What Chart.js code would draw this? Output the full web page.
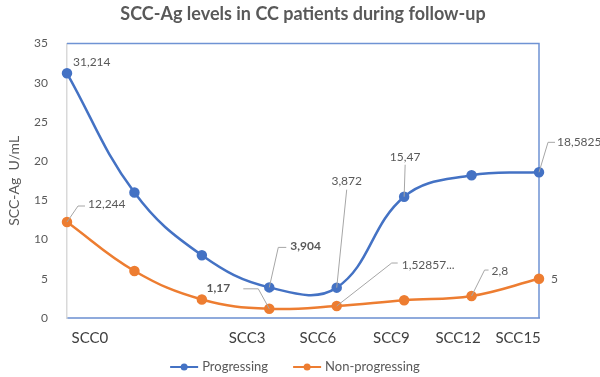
<!DOCTYPE html>
<html>
<head>
<meta charset="utf-8">
<script src="https://cdn.jsdelivr.net/npm/chart.js@4.4.1/dist/chart.umd.min.js"></script>
<style>
  html, body { margin: 0; padding: 0; background: #fff; }
  #wrap { width: 600px; height: 377px; }
</style>
</head>
<body>
<div id="wrap"><canvas id="scc"></canvas></div>
<script>
// --- data ---
const steps = [0, 1, 2, 3, 4, 5, 6, 7]
const progressing = [31.214, 16, 8, 3.904, 3.872, 15.47, 18.2, 18.5825]
const nonProgressing = [12.244, 6, 2.36, 1.17, 1.52857, 2.27, 2.8, 5]
const progressingLabels = ['31,214', null, null, '3,904', '3,872', '15,47', null, '18,5825']
const nonProgressingLabels = ['12,244', null, null, '1,17', '1,52857...', null, '2,8', '5']
const xTickLabels = ['SCC0', 'SCC3', 'SCC6', 'SCC9', 'SCC12', 'SCC15']
const yTicks = [0, 5, 10, 15, 20, 25, 30, 35]

const BLUE = '#4472C4'
const ORANGE = '#ED7D31'
const TEXT = '#595959'
const FONT = 'Lato, "Open Sans", sans-serif'

// where each x tick label sits, in step units (labels in the source are not under the points)
const xTickAt = [0.34, 2.67, 3.72, 4.81, 5.8, 6.69]

// label placement relative to its point: text offset, alignment, optional leader line
const labelStyle = {
  0: {
    0: { dx: 6, dy: -11, align: 'left' },
    3: { dx: 21, dy: -41, align: 'left', bold: true, leader: [[9, -40], [17, -40]] },
    4: { dx: 10, dy: -107, align: 'center', leader: [[10, -98]] },
    5: { dx: 1, dy: -40, align: 'center', leader: [[1, -32]] },
    7: { dx: 18, dy: -30, align: 'left', leader: [[9, -30], [16, -30]] }
  },
  1: {
    0: { dx: 21, dy: -18, align: 'left', leader: [[11, -16], [18, -16]] },
    3: { dx: -39, dy: -21, align: 'right', bold: true, leader: [[-11, -20], [-26, -20]] },
    4: { dx: 65, dy: -41, align: 'left', leader: [[55, -43], [61, -43]] },
    6: { dx: 20, dy: -25, align: 'left', leader: [[13, -26], [17, -26]] },
    7: { dx: 12, dy: 0, align: 'left' }
  }
}

const dataLabels = {
  id: 'dataLabels',
  afterDatasetsDraw(chart) {
    const ctx = chart.ctx
    chart.data.datasets.forEach((ds, di) => {
      const meta = chart.getDatasetMeta(di)
      ds.pointLabels.forEach((txt, i) => {
        if (!txt) return
        const st = labelStyle[di][i]
        const pt = meta.data[i]
        ctx.save()
        if (st.leader) {
          ctx.strokeStyle = '#A6A6A6'
          ctx.lineWidth = 1
          ctx.beginPath()
          ctx.moveTo(pt.x, pt.y)
          st.leader.forEach(([lx, ly]) => ctx.lineTo(pt.x + lx, pt.y + ly))
          ctx.stroke()
        }
        ctx.fillStyle = TEXT
        ctx.font = (st.bold ? 'bold ' : '') + '12px ' + FONT
        ctx.textAlign = st.align
        ctx.textBaseline = 'middle'
        ctx.fillText(txt, pt.x + st.dx, pt.y + st.dy)
        ctx.restore()
      })
    })
  }
}

// blue frame on top and right side of the plot area
const plotFrame = {
  id: 'plotFrame',
  beforeDatasetsDraw(chart) {
    const { ctx, chartArea: a } = chart
    ctx.save()
    ctx.strokeStyle = '#6F93D4'
    ctx.lineWidth = 1.5
    ctx.beginPath()
    ctx.moveTo(a.left, a.top)
    ctx.lineTo(a.right, a.top)
    ctx.lineTo(a.right, a.bottom)
    ctx.stroke()
    ctx.restore()
  }
}

// Excel style legend: line with a dot, then the series name
const lineLegend = {
  id: 'lineLegend',
  afterDraw(chart) {
    const ctx = chart.ctx
    const lineW = 28
    const gapText = 4
    const gapItem = 25
    ctx.save()
    ctx.font = '13px ' + FONT
    const items = chart.data.datasets.map((ds) => ({
      ds,
      w: lineW + gapText + ctx.measureText(ds.label).width
    }))
    const total = items.reduce((s, it) => s + it.w, 0) + gapItem * (items.length - 1)
    let x = 295 - total / 2
    const y = 367
    items.forEach((it) => {
      ctx.strokeStyle = it.ds.borderColor
      ctx.lineWidth = 2
      ctx.beginPath()
      ctx.moveTo(x, y)
      ctx.lineTo(x + lineW, y)
      ctx.stroke()
      ctx.fillStyle = it.ds.borderColor
      ctx.beginPath()
      ctx.arc(x + lineW / 2, y, 3.5, 0, Math.PI * 2)
      ctx.fill()
      ctx.fillStyle = TEXT
      ctx.textAlign = 'left'
      ctx.textBaseline = 'middle'
      ctx.fillText(it.ds.label, x + lineW + gapText, y)
      x += it.w + gapItem
    })
    ctx.restore()
  }
}

function series(values) {
  return values.map((v, i) => ({ x: steps[i], y: v }))
}

new Chart(document.getElementById('scc'), {
  type: 'line',
  data: {
    datasets: [
      {
        label: 'Progressing',
        data: series(progressing),
        pointLabels: progressingLabels,
        borderColor: BLUE,
        backgroundColor: BLUE,
        borderWidth: 2.5,
        pointRadius: 4,
        pointBackgroundColor: BLUE,
        tension: 0.4,
        clip: false
      },
      {
        label: 'Non-progressing',
        data: series(nonProgressing),
        pointLabels: nonProgressingLabels,
        borderColor: ORANGE,
        backgroundColor: ORANGE,
        borderWidth: 2.5,
        pointRadius: 4,
        pointBackgroundColor: ORANGE,
        tension: 0.4,
        clip: false
      }
    ]
  },
  options: {
    responsive: true,
    maintainAspectRatio: false,
    animation: false,
    layout: {
      padding: { left: 6, right: 0, top: 0, bottom: 25 }
    },
    plugins: {
      title: {
        display: true,
        text: 'SCC-Ag levels in CC patients during follow-up',
        color: TEXT,
        font: { family: FONT, size: 18, weight: 'bold' },
        padding: { top: 3, bottom: 19 }
      },
      legend: { display: false },
      tooltip: { enabled: false }
    },
    scales: {
      x: {
        type: 'linear',
        min: 0,
        max: 7,
        grid: { display: false },
        border: { color: '#8FAADC', width: 2 },
        afterBuildTicks: (scale) => {
          scale.ticks = xTickAt.map((v) => ({ value: v }))
        },
        afterFit: (scale) => {
          scale.height = 34
        },
        ticks: {
          color: '#404040',
          font: { family: FONT, size: 15 },
          padding: 3,
          maxRotation: 0,
          autoSkip: false,
          callback: (value, index) => xTickLabels[index]
        }
      },
      y: {
        min: 0,
        max: 35,
        grid: { display: false },
        border: { color: '#D9D9D9', width: 1.5 },
        afterBuildTicks: (scale) => {
          scale.ticks = yTicks.map((v) => ({ value: v }))
        },
        afterFit: (scale) => {
          scale.width = 61
        },
        title: {
          display: true,
          text: 'SCC-Ag  U/mL',
          color: TEXT,
          font: { family: FONT, size: 14 },
          padding: { top: 0, bottom: 4 }
        },
        ticks: {
          color: TEXT,
          font: { family: FONT, size: 12 },
          padding: 11
        }
      },
      // empty right axis only reserves the blank strip right of the plot
      spacer: {
        type: 'linear',
        position: 'right',
        display: true,
        grid: { display: false },
        border: { display: false },
        ticks: { display: false },
        afterFit: (scale) => {
          scale.width = 61
        }
      }
    }
  },
  plugins: [plotFrame, dataLabels, lineLegend]
})
</script>
</body>
</html>
